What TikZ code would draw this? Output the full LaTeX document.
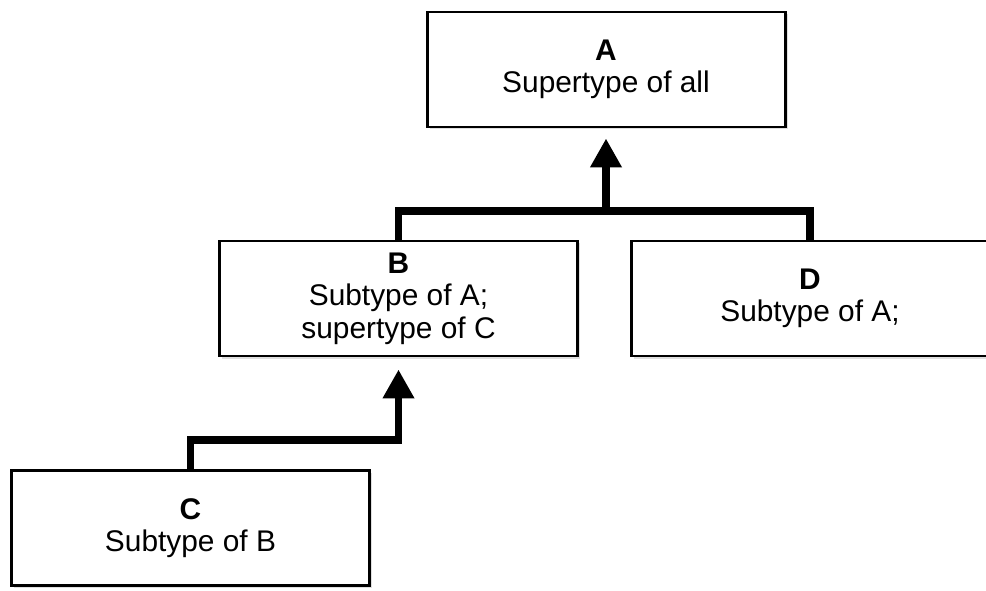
\documentclass[tikz,border=0pt]{standalone}
\usepackage{fontspec}
\setmainfont{Liberation Sans}
\usetikzlibrary{arrows.meta,shadows,calc}
\tikzset{typebox/.style={draw=black,line width=1.7pt,fill=white,minimum width=7.16cm,minimum height=2.3cm,align=center,font=\fontsize{17}{18.5}\selectfont,drop shadow={shadow xshift=0.05cm,shadow yshift=-0.05cm,opacity=0.25}}}
\tikzset{isa/.style={line width=4.5pt,-{Triangle[width=0.6cm,length=0.58cm]}}}
\tikzset{bar/.style={line width=4.5pt}}

\begin{document}
\begin{tikzpicture}[scale=1]
	\useasboundingbox[fill=white] (0,0) rectangle (19.72,11.8); %page
	\node[typebox] (A) at (12.12,10.41) {\textbf{A}\\Supertype of all};
	\node[typebox] (B) at (7.97,5.83) {\textbf{B}\\Subtype of A;\\supertype of C};
	\node[typebox] (D) at (16.20,5.83) {\textbf{D}\\Subtype of A;};
	\node[typebox] (C) at (3.81,1.24) {\textbf{C}\\Subtype of B};

	\coordinate (junA) at (A.south |- 0,7.58);
	\coordinate (junC) at (C.north |- 0,3.0);

	% B and D up to A
	\draw[bar] (B.north) |- (junA) -| (D.north);
	\draw[isa,shorten >=0.2cm] (junA) -- (A.south);
	% C up to B
	\draw[isa,shorten >=0.24cm] (C.north) -- (junC) -| (B.south);
\end{tikzpicture}
\end{document}
